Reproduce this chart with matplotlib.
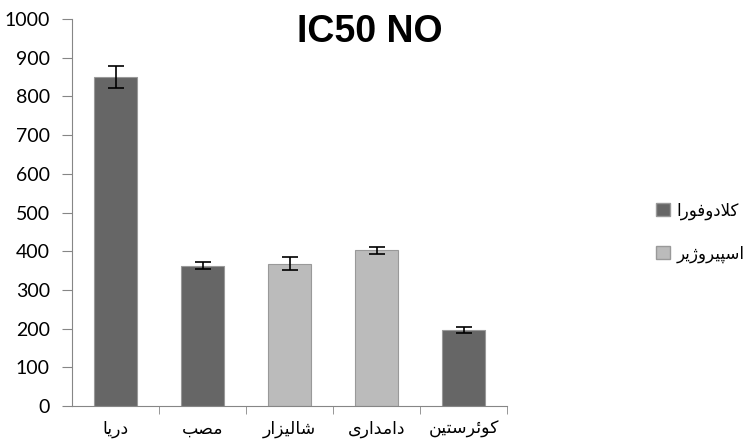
import matplotlib
matplotlib.use('Agg')
import matplotlib.pyplot as plt
from matplotlib.patches import Patch

# data
categories = ['دریا', 'مصب', 'شالیزار', 'دامداری', 'کوئرستین']
values = [850, 362, 368, 402, 196]
errors = [28, 9, 16, 10, 7]
groups = [0, 0, 1, 1, 0]  # 0 = کلادوفورا, 1 = اسپیروژیر
group_names = ['کلادوفورا', 'اسپیروژیر']
group_colors = ['#666666', '#bbbbbb']
yticks = list(range(0, 1001, 100))

# matplotlib has no arabic shaping, so map letters to presentation forms
FORMS = {
    'ا': ('\uFE8D', '\uFE8E'),
    'د': ('\uFEA9', '\uFEAA'),
    'ذ': ('\uFEAB', '\uFEAC'),
    'ر': ('\uFEAD', '\uFEAE'),
    'ز': ('\uFEAF', '\uFEB0'),
    'ژ': ('\uFB8A', '\uFB8B'),
    'و': ('\uFEED', '\uFEEE'),
    'ب': ('\uFE8F', '\uFE90', '\uFE91', '\uFE92'),
    'پ': ('\uFB56', '\uFB57', '\uFB58', '\uFB59'),
    'ت': ('\uFE95', '\uFE96', '\uFE97', '\uFE98'),
    'ث': ('\uFE99', '\uFE9A', '\uFE9B', '\uFE9C'),
    'س': ('\uFEB1', '\uFEB2', '\uFEB3', '\uFEB4'),
    'ش': ('\uFEB5', '\uFEB6', '\uFEB7', '\uFEB8'),
    'ص': ('\uFEB9', '\uFEBA', '\uFEBB', '\uFEBC'),
    'ف': ('\uFED1', '\uFED2', '\uFED3', '\uFED4'),
    'ک': ('\uFB8E', '\uFB8F', '\uFB90', '\uFB91'),
    'ل': ('\uFEDD', '\uFEDE', '\uFEDF', '\uFEE0'),
    'م': ('\uFEE1', '\uFEE2', '\uFEE3', '\uFEE4'),
    'ن': ('\uFEE5', '\uFEE6', '\uFEE7', '\uFEE8'),
    'ی': ('\uFBFC', '\uFBFD', '\uFBFE', '\uFBFF'),
    'ئ': ('\uFE89', '\uFE8A', '\uFE8B', '\uFE8C'),
}


def shape(word):
    out = []
    prev_joins = False
    i = 0
    while i < len(word):
        ch = word[i]
        if ch == 'ل' and i + 1 < len(word) and word[i + 1] == 'ا':
            out.append('\uFEFC' if prev_joins else '\uFEFB')
            prev_joins = False
            i += 2
            continue
        f = FORMS[ch]
        nxt = word[i + 1] if i + 1 < len(word) else None
        next_joins = len(f) == 4 and nxt in FORMS
        if prev_joins and next_joins:
            out.append(f[3])
        elif prev_joins:
            out.append(f[1])
        elif next_joins:
            out.append(f[2])
        else:
            out.append(f[0])
        prev_joins = next_joins
        i += 1
    return ''.join(reversed(out))


fig = plt.figure(figsize=(7.43, 4.43), dpi=100)
ax = fig.add_axes([72 / 743, 1 - 406 / 443, 435 / 743, 387 / 443])

x = list(range(len(categories)))
colors = [group_colors[g] for g in groups]
ax.bar(x, values, width=0.5, color=colors, edgecolor='#999999', linewidth=0.8,
       yerr=errors, capsize=6, error_kw=dict(ecolor='black', elinewidth=1.2, capthick=1.2),
       zorder=2)

ax.set_xlim(-0.5, len(categories) - 0.5)
ax.set_ylim(0, 1000)
ax.set_yticks(yticks)
ax.set_yticklabels([str(t) for t in yticks], fontfamily='Lato', fontsize=14)

ax.set_xticks(x)
ax.set_xticklabels([shape(c) for c in categories], fontfamily='DejaVu Sans', fontsize=12.5)
ax.set_xticks([i + 0.5 for i in x], minor=True)
ax.tick_params(axis='x', which='major', length=0, pad=10)
ax.tick_params(axis='x', which='minor', length=6, color='#868686')
ax.tick_params(axis='y', length=7, color='#868686', pad=9)

for s in ['top', 'right']:
    ax.spines[s].set_visible(False)
for s in ['left', 'bottom']:
    ax.spines[s].set_color('#868686')

fig.text(0.498, 1 - 32 / 443, 'IC50 NO', fontfamily='Liberation Sans', fontweight='bold',
         fontsize=27, ha='center', va='center')

handles = [Patch(facecolor=group_colors[i], edgecolor='#999999') for i in range(2)]
ax.legend(handles, [shape(n) for n in group_names], prop={'family': 'DejaVu Sans', 'size': 12},
          frameon=False, loc='upper left', bbox_to_anchor=(648 / 743, 1 - 193 / 443),
          bbox_transform=fig.transFigure, handlelength=0.8, handleheight=0.8,
          handletextpad=0.4, labelspacing=1.5, borderpad=0)

fig.savefig('out.png', dpi=100)
